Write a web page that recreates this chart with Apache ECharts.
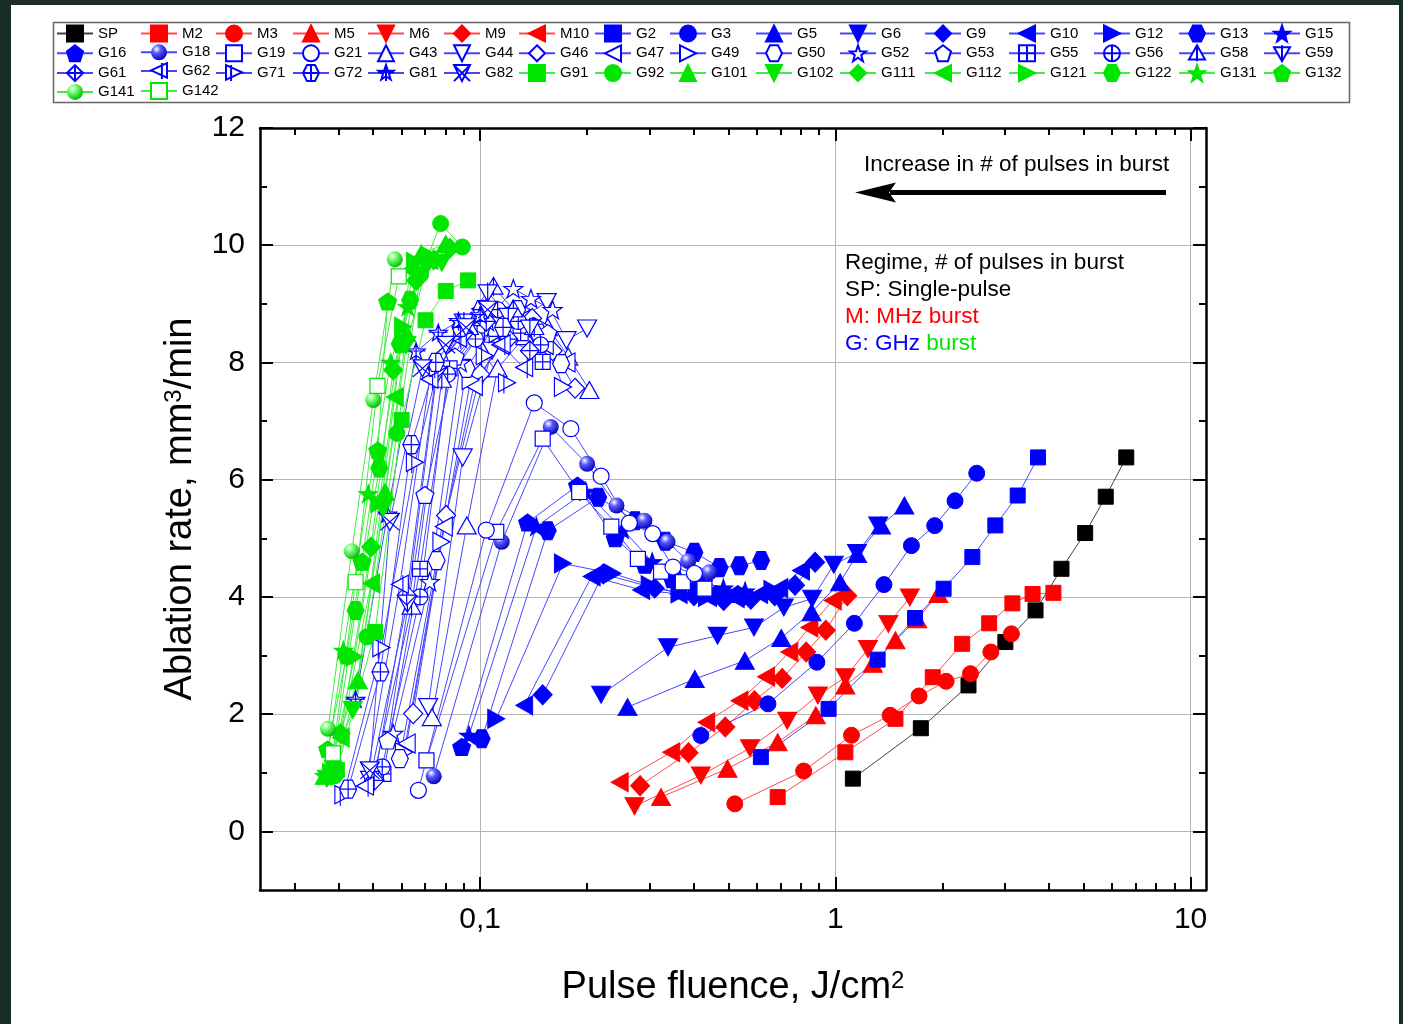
<!DOCTYPE html>
<html>
<head>
<meta charset="utf-8">
<title>Ablation rate vs pulse fluence</title>
<script src="https://cdn.jsdelivr.net/npm/echarts@6.0.0/dist/echarts.min.js"></script>
<style>
  html, body { margin: 0; padding: 0; background: #1b2d28; }
  #paper { position: absolute; left: 11px; top: 5px; width: 1388px; height: 1019px; background: #fff; }
  #chart { position: absolute; left: 0; top: 0; width: 1403px; height: 1024px; }
</style>
</head>
<body>
<div id="paper"></div>
<div id="chart"></div>
<script>
// axis ticks
const X_MAJOR = [0.1, 1, 10]
const X_MINOR = [0.03, 0.04, 0.05, 0.06, 0.07, 0.08, 0.09, 0.2, 0.3, 0.4, 0.5, 0.6, 0.7, 0.8, 0.9, 2, 3, 4, 5, 6, 7, 8, 9]
const Y_MAJOR = [0, 2, 4, 6, 8, 10, 12]
const Y_MINOR = [1, 3, 5, 7, 9, 11]

// [fluence J/cm2, ablation rate mm3/min]
const SP = [[1.12, 0.90], [1.74, 1.76], [2.37, 2.49], [3.01, 3.23], [3.66, 3.77], [4.33, 4.48], [5.05, 5.09], [5.77, 5.71], [6.59, 6.38]]
const M2 = [[0.688, 0.585], [1.067, 1.35], [1.476, 1.92], [1.88, 2.63], [2.275, 3.2], [2.71, 3.55], [3.15, 3.89], [3.59, 4.05], [4.11, 4.07]]
const M3 = [[0.521, 0.47], [0.814, 1.03], [1.11, 1.64], [1.426, 1.98], [1.72, 2.31], [2.05, 2.56], [2.40, 2.69], [2.74, 3.06], [3.13, 3.37]]
const M5 = [[0.323, 0.585], [0.497, 1.07], [0.688, 1.52], [0.881, 1.98], [1.067, 2.49], [1.275, 2.86], [1.476, 3.26], [1.70, 3.62], [1.95, 4.05]]
const M6 = [[0.272, 0.43], [0.418, 0.955], [0.575, 1.42], [0.732, 1.89], [0.893, 2.32], [1.067, 2.63], [1.235, 3.11], [1.41, 3.54], [1.62, 3.99]]
const M9 = [[0.282, 0.78], [0.386, 1.34], [0.49, 1.78], [0.592, 2.23], [0.708, 2.61], [0.828, 3.06], [0.94, 3.43], [1.08, 4.02]]
const M10 = [[0.247, 0.84], [0.345, 1.35], [0.433, 1.86], [0.537, 2.23], [0.638, 2.64], [0.742, 3.06], [0.845, 3.48], [0.983, 3.94]]

const G2 = [[0.617, 1.267], [0.957, 2.09], [1.315, 2.93], [1.676, 3.64], [2.017, 4.14], [2.43, 4.68], [2.82, 5.22], [3.26, 5.73], [3.72, 6.38]]
const G3 = [[0.418, 1.636], [0.646, 2.176], [0.887, 2.886], [1.131, 3.55], [1.37, 4.21], [1.637, 4.875], [1.904, 5.216], [2.172, 5.64], [2.5, 6.11]]
const G5 = [[0.26, 2.12], [0.402, 2.6], [0.556, 2.91], [0.704, 3.3], [0.857, 3.74], [1.031, 4.25], [1.152, 4.73], [1.345, 5.22], [1.564, 5.56]]
const G6 = [[0.219, 2.33], [0.338, 3.14], [0.466, 3.34], [0.59, 3.48], [0.716, 3.82], [0.86, 3.97], [0.99, 4.55], [1.15, 4.75], [1.32, 5.22]]
const G9 = [[0.15, 2.33], [0.222, 4.39], [0.31, 4.15], [0.4, 4.02], [0.485, 3.94], [0.578, 3.96], [0.675, 4.02], [0.77, 4.2], [0.877, 4.59]]
const G10 = [[0.133, 2.15], [0.206, 4.35], [0.284, 4.12], [0.362, 4.05], [0.438, 4.0], [0.524, 3.98], [0.61, 4.05], [0.695, 4.15], [0.8, 4.45]]
const G12 = [[0.111, 1.92], [0.171, 4.57], [0.236, 4.4], [0.3, 4.2], [0.364, 4.06], [0.435, 4.0], [0.507, 4.05], [0.578, 4.0], [0.665, 4.12]]
const G13 = [[0.101, 1.58], [0.155, 5.13], [0.215, 5.7], [0.273, 5.3], [0.332, 4.95], [0.401, 4.76], [0.472, 4.5], [0.537, 4.53], [0.618, 4.62]]
const G15 = [[0.093, 1.64], [0.144, 5.2], [0.198, 5.8], [0.252, 5.15], [0.305, 4.6], [0.365, 4.3], [0.424, 4.25], [0.484, 4.15], [0.557, 4.1]]
const G16 = [[0.0887, 1.44], [0.136, 5.27], [0.188, 5.9], [0.24, 5.0], [0.291, 4.55], [0.348, 4.3], [0.405, 4.15], [0.461, 4.05], [0.531, 4.05]]
const G18 = [[0.074, 0.94], [0.115, 4.94], [0.158, 6.9], [0.2, 6.27], [0.242, 5.56], [0.29, 5.3], [0.337, 4.94], [0.385, 4.61], [0.442, 4.42]]
const G19 = [[0.0706, 1.21], [0.111, 5.11], [0.15, 6.7], [0.19, 5.79], [0.234, 5.2], [0.278, 4.65], [0.323, 4.43], [0.372, 4.25], [0.428, 4.14]]
const G21 = [[0.067, 0.70], [0.104, 5.14], [0.142, 7.31], [0.18, 6.87], [0.219, 6.06], [0.263, 5.26], [0.306, 5.08], [0.349, 4.51], [0.401, 4.40]]
const G43 = [[0.0731, 1.95], [0.0917, 5.22], [0.112, 7.9], [0.134, 8.45], [0.155, 8.6], [0.177, 8.1], [0.203, 7.53]]
const G44 = [[0.0714, 2.12], [0.0893, 6.38], [0.108, 8.2], [0.13, 8.75], [0.154, 9.03], [0.175, 8.38], [0.2, 8.58]]
const G46 = [[0.0648, 2.01], [0.0802, 5.39], [0.1, 7.8], [0.12, 8.5], [0.14, 8.75], [0.16, 8.2], [0.185, 7.56]]
const G47 = [[0.0621, 1.5], [0.079, 5.2], [0.096, 7.6], [0.114, 8.3], [0.133, 8.6], [0.152, 8.3], [0.175, 8.0]]
const G49 = [[0.061, 1.35], [0.0778, 4.94], [0.094, 7.7], [0.112, 8.5], [0.131, 8.9], [0.15, 8.6], [0.171, 7.58]]
const G50 = [[0.0594, 1.24], [0.0754, 4.62], [0.0915, 7.9], [0.109, 8.6], [0.127, 8.9], [0.146, 8.5], [0.169, 7.98]]
const G52 = [[0.0569, 1.67], [0.0721, 4.26], [0.088, 8.0], [0.105, 8.7], [0.124, 9.26], [0.139, 9.09], [0.16, 8.9]]
const G53 = [[0.0549, 1.55], [0.0699, 5.74], [0.085, 8.1], [0.101, 8.6], [0.118, 8.8], [0.134, 8.6], [0.155, 8.5]]
const G55 = [[0.0534, 0.98], [0.0677, 4.48], [0.082, 7.9], [0.098, 8.5], [0.114, 8.8], [0.13, 8.5], [0.15, 8.01]]
const G56 = [[0.053, 1.1], [0.0677, 4.0], [0.081, 7.8], [0.097, 8.4], [0.112, 8.9], [0.128, 8.7], [0.148, 8.3]]
const G58 = [[0.0504, 1.0], [0.0641, 3.83], [0.078, 7.7], [0.093, 8.6], [0.109, 9.29], [0.124, 8.9], [0.142, 8.6]]
const G59 = [[0.049, 0.9], [0.0624, 3.9], [0.0755, 7.8], [0.09, 8.7], [0.105, 9.2], [0.12, 8.8], [0.138, 8.6]]
const G61 = [[0.0503, 0.87], [0.0621, 4.03], [0.0755, 7.9], [0.09, 8.5], [0.104, 8.7], [0.12, 8.4], [0.138, 8.2]]
const G62 = [[0.0474, 0.76], [0.0594, 4.2], [0.072, 7.7], [0.0865, 8.4], [0.1, 8.9], [0.115, 8.3], [0.133, 7.9]]
const G71 = [[0.0412, 0.61], [0.0527, 3.12], [0.0655, 6.28], [0.076, 7.9], [0.089, 8.5], [0.103, 8.1], [0.119, 7.64]]
const G72 = [[0.0425, 0.72], [0.0524, 2.72], [0.064, 6.6], [0.075, 8.0], [0.088, 8.6], [0.101, 8.9], [0.116, 8.6]]
const G81 = [[0.0446, 2.24], [0.0548, 5.4], [0.066, 8.18], [0.0762, 8.5], [0.0869, 8.7], [0.1, 8.8]]
const G82 = [[0.0489, 1.04], [0.0557, 5.28], [0.0688, 7.9], [0.08, 8.3], [0.0912, 8.6], [0.105, 8.9]]

const G91 = [[0.0395, 1.05], [0.0506, 3.4], [0.0601, 7.02], [0.0702, 8.72], [0.08, 9.22], [0.0925, 9.4]]
const G92 = [[0.039, 0.95], [0.048, 3.32], [0.0583, 6.79], [0.068, 9.5], [0.0774, 10.37], [0.0891, 9.97]]
const G101 = [[0.0365, 0.95], [0.0453, 2.58], [0.054, 5.79], [0.062, 8.5], [0.0683, 9.86], [0.08, 10.02]]
const G102 = [[0.037, 0.9], [0.0438, 2.07], [0.0533, 5.51], [0.062, 8.3], [0.0706, 9.63], [0.078, 9.7]]
const G111 = [[0.0405, 1.67], [0.0493, 4.85], [0.0569, 7.87], [0.066, 9.4], [0.074, 9.75], [0.0821, 9.95]]
const G112 = [[0.0405, 1.6], [0.0493, 4.23], [0.0575, 7.41], [0.0635, 9.58], [0.072, 9.75]]
const G121 = [[0.038, 1.0], [0.0443, 2.98], [0.052, 5.6], [0.0607, 8.61], [0.0655, 9.72], [0.073, 9.8]]
const G122 = [[0.0385, 1.2], [0.0446, 3.77], [0.052, 6.2], [0.0594, 8.32], [0.0635, 9.06]]
const G131 = [[0.0365, 0.95], [0.0412, 3.09], [0.0484, 5.76], [0.056, 8.0], [0.0625, 8.95]]
const G132 = [[0.0372, 1.4], [0.0421, 3.0], [0.0465, 4.6], [0.0515, 6.5], [0.0549, 9.04]]
const G141 = [[0.0373, 1.75], [0.0435, 4.78], [0.05, 7.36], [0.0575, 9.76]]
const G142 = [[0.0385, 1.33], [0.0446, 4.25], [0.0514, 7.6], [0.059, 9.47]]

const FONT = '"Liberation Sans", Arial, sans-serif'
const BLACK = '#000000'
const RED = '#ff0000'
const BLUE = '#0000ff'
const GREEN = '#00e600'
const LINE_COLOR = { [BLACK]: '#404040', [RED]: '#ff4b4b', [BLUE]: '#4646ff', [GREEN]: '#40ee40' }

// Origin-like marker shapes
const STAR = 'M50,0L61.8,33.8L97.6,34.5L69,56.2L79.4,90.5L50,70L20.6,90.5L31,56.2L2.4,34.5L38.2,33.8Z'
const HEX = 'M25,0L75,0L100,50L75,100L25,100L0,50Z'
const SHAPES = {
  square: { symbol: 'rect', size: 15 },
  circle: { symbol: 'circle', size: 16 },
  up: { symbol: 'triangle', size: [19, 17] },
  down: { symbol: 'path://M0,0L100,0L50,88Z', size: [19, 17] },
  left: { symbol: 'path://M0,50L88,0L88,100Z', size: [17, 19] },
  right: { symbol: 'path://M0,0L88,50L0,100Z', size: [17, 19] },
  diamond: { symbol: 'diamond', size: [19, 20] },
  hex: { symbol: 'path://' + HEX, size: [17, 18] },
  star: { symbol: 'path://' + STAR, size: [19, 18] },
  pent: { symbol: 'path://M50,0L97.6,34.5L79.4,90.5L20.6,90.5L2.4,34.5Z', size: [18, 17] },
  sqPlus: { symbol: 'path://M0,0L100,0L100,100L0,100ZM50,0L50,100M0,50L100,50', size: 15 },
  circPlus: { symbol: 'path://M0,50A50,50,0,1,1,100,50A50,50,0,1,1,0,50ZM50,0L50,100M0,50L100,50', size: 16 },
  upLine: { symbol: 'path://M50,0L100,88L0,88ZM50,0L50,100', size: [19, 19] },
  downLine: { symbol: 'path://M0,12L100,12L50,100ZM50,0L50,100', size: [19, 19] },
  diaPlus: { symbol: 'path://M50,0L100,50L50,100L0,50ZM50,0L50,100M0,50L100,50', size: [19, 20] },
  leftLine: { symbol: 'path://M0,50L88,0L88,100ZM60,0L60,110', size: [17, 20] },
  rightLine: { symbol: 'path://M0,0L88,50L0,100ZM28,0L28,110', size: [17, 20] },
  hexPlus: { symbol: 'path://' + HEX + 'M50,0L50,100M0,50L100,50', size: [17, 18] },
  starPlus: { symbol: 'path://' + STAR + 'M50,0L50,100M0,45L100,45', size: [19, 18] },
  downX: { symbol: 'path://M0,0L100,0L50,88ZM0,0L100,88M100,0L0,88', size: [19, 17] }
}

// name, data, marker, fill mode, colour
const SERIES = [
  ['SP', SP, 'square', 'solid', BLACK],
  ['M2', M2, 'square', 'solid', RED],
  ['M3', M3, 'circle', 'solid', RED],
  ['M5', M5, 'up', 'solid', RED],
  ['M6', M6, 'down', 'solid', RED],
  ['M9', M9, 'diamond', 'solid', RED],
  ['M10', M10, 'left', 'solid', RED],
  ['G2', G2, 'square', 'solid', BLUE],
  ['G3', G3, 'circle', 'solid', BLUE],
  ['G5', G5, 'up', 'solid', BLUE],
  ['G6', G6, 'down', 'solid', BLUE],
  ['G9', G9, 'diamond', 'solid', BLUE],
  ['G10', G10, 'left', 'solid', BLUE],
  ['G12', G12, 'right', 'solid', BLUE],
  ['G13', G13, 'hex', 'solid', BLUE],
  ['G15', G15, 'star', 'solid', BLUE],
  ['G16', G16, 'pent', 'solid', BLUE],
  ['G18', G18, 'circle', 'sphere', BLUE],
  ['G19', G19, 'square', 'open', BLUE],
  ['G21', G21, 'circle', 'open', BLUE],
  ['G43', G43, 'up', 'open', BLUE],
  ['G44', G44, 'down', 'open', BLUE],
  ['G46', G46, 'diamond', 'open', BLUE],
  ['G47', G47, 'left', 'open', BLUE],
  ['G49', G49, 'right', 'open', BLUE],
  ['G50', G50, 'hex', 'open', BLUE],
  ['G52', G52, 'star', 'open', BLUE],
  ['G53', G53, 'pent', 'open', BLUE],
  ['G55', G55, 'sqPlus', 'open', BLUE],
  ['G56', G56, 'circPlus', 'open', BLUE],
  ['G58', G58, 'upLine', 'open', BLUE],
  ['G59', G59, 'downLine', 'open', BLUE],
  ['G61', G61, 'diaPlus', 'open', BLUE],
  ['G62', G62, 'leftLine', 'open', BLUE],
  ['G71', G71, 'rightLine', 'open', BLUE],
  ['G72', G72, 'hexPlus', 'open', BLUE],
  ['G81', G81, 'starPlus', 'open', BLUE],
  ['G82', G82, 'downX', 'open', BLUE],
  ['G91', G91, 'square', 'solid', GREEN],
  ['G92', G92, 'circle', 'solid', GREEN],
  ['G101', G101, 'up', 'solid', GREEN],
  ['G102', G102, 'down', 'solid', GREEN],
  ['G111', G111, 'diamond', 'solid', GREEN],
  ['G112', G112, 'left', 'solid', GREEN],
  ['G121', G121, 'right', 'solid', GREEN],
  ['G122', G122, 'hex', 'solid', GREEN],
  ['G131', G131, 'star', 'solid', GREEN],
  ['G132', G132, 'pent', 'solid', GREEN],
  ['G141', G141, 'circle', 'sphere', GREEN],
  ['G142', G142, 'square', 'open', GREEN]
]

// legend is laid out in columns like the Origin legend
const LEGEND_COLS = [
  ['SP', 'G16', 'G61', 'G141'], ['M2', 'G18', 'G62', 'G142'], ['M3', 'G19', 'G71'], ['M5', 'G21', 'G72'],
  ['M6', 'G43', 'G81'], ['M9', 'G44', 'G82'], ['M10', 'G46', 'G91'], ['G2', 'G47', 'G92'],
  ['G3', 'G49', 'G101'], ['G5', 'G50', 'G102'], ['G6', 'G52', 'G111'], ['G9', 'G53', 'G112'],
  ['G10', 'G55', 'G121'], ['G12', 'G56', 'G122'], ['G13', 'G58', 'G131'], ['G15', 'G59', 'G132']
]
const LEGEND_LEFT = [56, 140, 215, 292, 367, 443, 518, 594, 669, 755, 839, 924, 1008, 1093, 1178, 1263]

const sphere = (mid, dark) => ({
  type: 'radial', x: 0.35, y: 0.3, r: 0.75,
  colorStops: [{ offset: 0, color: '#ffffff' }, { offset: 0.35, color: mid }, { offset: 1, color: dark }]
})

const makeSeries = ([name, data, shape, fill, color]) => {
  const s = SHAPES[shape]
  let itemStyle
  if (fill === 'open') {
    itemStyle = { color: '#ffffff', borderColor: color, borderWidth: 1.2 }
  } else if (fill === 'sphere') {
    itemStyle = { color: color === BLUE ? sphere('#5a5aff', '#0000b4') : sphere('#70ff70', '#00b400'), borderWidth: 0 }
  } else {
    itemStyle = { color, borderColor: color, borderWidth: 1 }
  }
  return {
    name, type: 'line', data,
    symbol: s.symbol, symbolSize: s.size,
    itemStyle,
    lineStyle: { color: LINE_COLOR[color], width: 1 },
    emphasis: { disabled: true },
    silent: true
  }
}

const frameLine = { show: true, onZero: false, lineStyle: { color: '#000', width: 2.5 } }
const noLine = { show: false, onZero: false }
const tickStyle = { color: '#000', width: 2 }

const xBase = { type: 'log', logBase: 10, min: 0.024, max: 11.05, splitLine: { show: false }, axisLabel: { show: false } }
const yBase = { type: 'value', min: -1, max: 12, splitLine: { show: false }, axisLabel: { show: false } }

const xAxis = [
  {
    ...xBase, position: 'bottom', axisLine: frameLine,
    axisTick: { inside: true, length: 13, lineStyle: tickStyle, customValues: X_MAJOR },
    axisLabel: {
      show: true, customValues: X_MAJOR, margin: 15, fontSize: 30, fontFamily: FONT, color: '#000',
      formatter: (v) => String(v).replace('.', ',')
    },
    splitLine: { show: true, lineStyle: { color: '#b4b4b4', width: 1 } },
    name: 'Pulse fluence, J/cm{s|2}', nameLocation: 'middle', nameGap: 79,
    nameTextStyle: {
      fontSize: 38, fontFamily: FONT, color: '#000',
      rich: { s: { fontSize: 24, fontFamily: FONT, color: '#000', verticalAlign: 'top' } }
    }
  },
  { ...xBase, position: 'bottom', axisLine: noLine, axisTick: { inside: true, length: 7, lineStyle: tickStyle, customValues: X_MINOR } },
  { ...xBase, position: 'top', axisLine: frameLine, axisTick: { inside: true, length: 13, lineStyle: tickStyle, customValues: X_MAJOR } },
  { ...xBase, position: 'top', axisLine: noLine, axisTick: { inside: true, length: 7, lineStyle: tickStyle, customValues: X_MINOR } }
]

const yAxis = [
  {
    ...yBase, position: 'left', axisLine: frameLine,
    axisTick: { inside: true, length: 13, lineStyle: tickStyle, customValues: Y_MAJOR },
    axisLabel: { show: true, customValues: Y_MAJOR, margin: 15, fontSize: 30, fontFamily: FONT, color: '#000' },
    splitLine: { show: true, lineStyle: { color: '#b4b4b4', width: 1 } },
    name: 'Ablation rate, mm{s|3}/min', nameLocation: 'middle', nameGap: 60,
    nameTextStyle: {
      fontSize: 38, fontFamily: FONT, color: '#000',
      rich: { s: { fontSize: 24, fontFamily: FONT, color: '#000', verticalAlign: 'top' } }
    }
  },
  { ...yBase, position: 'left', axisLine: noLine, axisTick: { inside: true, length: 7, lineStyle: tickStyle, customValues: Y_MINOR } },
  { ...yBase, position: 'right', axisLine: frameLine, axisTick: { inside: true, length: 13, lineStyle: tickStyle, customValues: Y_MAJOR } },
  { ...yBase, position: 'right', axisLine: noLine, axisTick: { inside: true, length: 7, lineStyle: tickStyle, customValues: Y_MINOR } }
]

const legend = LEGEND_COLS.map((names, i) => ({
  orient: 'vertical',
  left: LEGEND_LEFT[i],
  top: 24.5,
  padding: 0,
  itemWidth: 36,
  itemHeight: 20,
  itemGap: 1.8,
  selectedMode: false,
  textStyle: { fontSize: 15, fontFamily: FONT, color: '#000' },
  data: names
}))

const textFont = `22.5px ${FONT}`
const graphic = [
  // legend frame
  { type: 'rect', shape: { x: 53.5, y: 22.5, width: 1296, height: 80 }, style: { fill: 'none', stroke: '#666', lineWidth: 1.5 }, silent: true },
  { type: 'text', x: 864, y: 165, style: { text: 'Increase in # of pulses in burst', font: textFont, fill: '#000', align: 'left', verticalAlign: 'middle' } },
  { type: 'line', shape: { x1: 1166, y1: 192.5, x2: 890, y2: 192.5 }, style: { stroke: '#000', lineWidth: 5 } },
  { type: 'polygon', shape: { points: [[855, 192.5], [896, 182.5], [889, 192.5], [896, 202.5]] }, style: { fill: '#000' } },
  { type: 'text', x: 845, y: 263, style: { text: 'Regime, # of pulses in burst', font: textFont, fill: '#000', align: 'left', verticalAlign: 'middle' } },
  { type: 'text', x: 845, y: 290, style: { text: 'SP: Single-pulse', font: textFont, fill: '#000', align: 'left', verticalAlign: 'middle' } },
  { type: 'text', x: 845, y: 317, style: { text: 'M: MHz burst', font: textFont, fill: RED, align: 'left', verticalAlign: 'middle' } },
  {
    type: 'text', x: 845, y: 344,
    style: {
      text: '{b|G: GHz} {g|burst}', font: textFont, align: 'left', verticalAlign: 'middle',
      rich: { b: { fill: BLUE, font: textFont }, g: { fill: GREEN, font: textFont } }
    }
  }
]

const chart = echarts.init(document.getElementById('chart'))
chart.setOption({
  animation: false,
  grid: { left: 260, right: 197, top: 128, bottom: 134 },
  xAxis,
  yAxis,
  legend,
  graphic,
  series: SERIES.map(makeSeries)
})

window.addEventListener('resize', () => chart.resize())
</script>
</body>
</html>
